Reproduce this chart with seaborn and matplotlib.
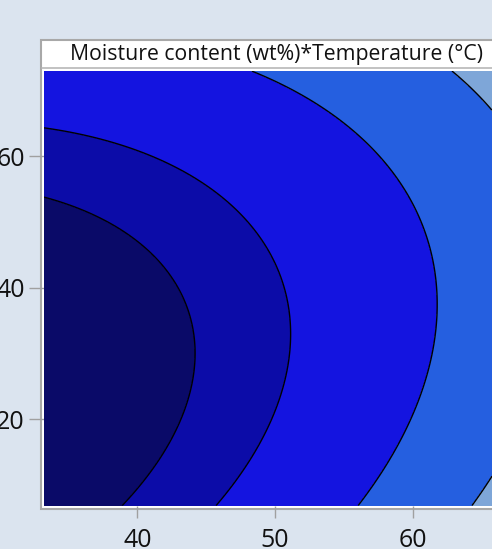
import numpy as np
import seaborn as sns
import matplotlib
matplotlib.use("Agg")
import matplotlib.pyplot as plt
from matplotlib.patches import Rectangle
from matplotlib.lines import Line2D

# response surface, coded units:
# u = (moisture - 50) / 10, v = (temperature - 40) / 20
coef_names = ["const", "u", "v", "u*u", "v*v", "u*v"]
coef_vals = [0.90142, 1.45683, 0.42316, 0.25131, 0.56231, -0.23858]
contour_levels = [0.0, 1.0, 2.95717, 4.91201]
band_colors = ["#0a0a68", "#0c0ca8", "#1414e0", "#255fe0", "#7ea6d8"]
x_ticks = [40, 50, 60]
y_ticks = [20, 40, 60]
x_range = [33.22, 65.76]
y_range = [6.83, 73.0]
title = "Moisture content (wt%)*Temperature (°C)"

sns.set_theme(style="white")
plt.rcParams["font.family"] = ["Open Sans", "DejaVu Sans"]

W, H = 492, 549
def fx(px): return px / W
def fy(py): return 1 - py / H

fig = plt.figure(figsize=(W / 100, H / 100), dpi=100)
fig.patch.set_facecolor("#dbe4ef")

# frame + title strip
fig.add_artist(Rectangle((fx(41), fy(509)), fx(560) - fx(41), fy(40) - fy(509),
                         transform=fig.transFigure, facecolor="white",
                         edgecolor="#a8a8a8", lw=1.5, zorder=-1))
fig.add_artist(Line2D([fx(42), fx(560)], [fy(68), fy(68)], transform=fig.transFigure,
                      color="#b8b8b8", lw=1.2, zorder=-1))
fig.text(fx(276), fy(54.5), title, ha="center", va="center", fontsize=15.3, color="#111111")

ax = fig.add_axes([fx(44), fy(505.5), fx(492) - fx(44), fy(71) - fy(505.5)])

xs = np.linspace(x_range[0], x_range[1], 300)
ys = np.linspace(y_range[0], y_range[1], 300)
X, Y = np.meshgrid(xs, ys)
U, V = (X - 50) / 10, (Y - 40) / 20
terms = [np.ones_like(U), U, V, U * U, V * V, U * V]
Z = sum(c * t for c, t in zip(coef_vals, terms))

pal = sns.color_palette(band_colors)
lv = [Z.min() - 1] + contour_levels + [Z.max() + 1]
ax.contourf(X, Y, Z, levels=lv, colors=pal)
ax.contour(X, Y, Z, levels=contour_levels, colors="black", linewidths=1.0)

ax.set_xlim(x_range)
ax.set_ylim(y_range)
ax.set_xticks(x_ticks)
ax.set_yticks(y_ticks)
for s in ax.spines.values():
    s.set_visible(False)
ax.tick_params(axis="x", bottom=True, length=8.3, width=1, color="#a0a0a0", pad=8,
               labelsize=18, labelcolor="#111111")
ax.tick_params(axis="y", left=True, length=10.8, width=1, color="#a0a0a0", pad=3,
               labelsize=18, labelcolor="#111111")

fig.savefig("out.png", dpi=100, facecolor=fig.get_facecolor())
